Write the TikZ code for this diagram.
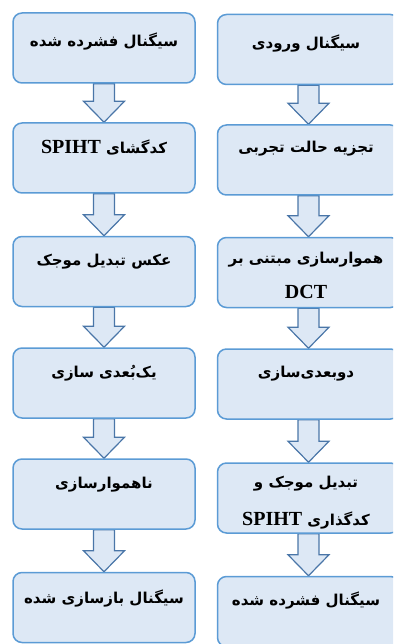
\documentclass[tikz,border=0pt]{standalone}
\usepackage{fontspec}
\usetikzlibrary{calc}
\TeXXeTstate=1
\newfontfamily\arabicfont[Script=Arabic]{DejaVu Sans}
\newfontfamily\latinfont{Liberation Serif}
\definecolor{boxfill}{HTML}{DDE8F5}
\definecolor{boxline}{HTML}{5B9BD5}
\definecolor{arrline}{HTML}{4A76A8}
\newcommand\fa[1]{\beginR #1\endR}
\newcommand\la[1]{{\latinfont\bfseries\fontsize{20}{24}\selectfont\beginL #1\endL}}
\pgfdeclarelayer{bg}
\pgfsetlayers{bg,main}
\tikzset{
  box/.style={draw=boxline, fill=boxfill, line width=1.5pt, rounded corners=9pt,
    minimum width=182pt, minimum height=70pt, inner sep=0pt},
  txt/.style={anchor=base, inner sep=0pt, font=\arabicfont\bfseries\fontsize{15}{18}\selectfont},
  blk/.style={draw=arrline, fill=boxfill, line width=1.2pt, line join=miter}
}
\newcommand\barrow[2]{%
  \begin{pgfonlayer}{bg}
  \draw[blk] let \p1=(#1.south), \p2=(#2.north) in
    (\x1-10.5pt,\y1) -- (\x1-10.5pt,\y2+21pt) -- (\x1-20.5pt,\y2+21pt) -- (\x1,\y2)
    -- (\x1+20.5pt,\y2+21pt) -- (\x1+10.5pt,\y2+21pt) -- (\x1+10.5pt,\y1) -- cycle;
  \end{pgfonlayer}}
\begin{document}
\begin{tikzpicture}[x=1pt,y=-1pt]
\useasboundingbox (0,0) rectangle (393,644);
\clip (0,0) rectangle (393,644);
% left column
\node[box] (L1) at (104,48) {};
\node[box] (L2) at (104,158) {};
\node[box] (L3) at (104,271.5) {};
\node[box] (L4) at (104,383) {};
\node[box] (L5) at (104,494) {};
\node[box] (L6) at (104,607.5) {};
% right column
\node[box] (R1) at (308.5,49.5) {};
\node[box] (R2) at (308.5,160) {};
\node[box] (R3) at (308.5,272.5) {};
\node[box] (R4) at (308.5,384) {};
\node[box] (R5) at (308.5,498) {};
\node[box] (R6) at (308.5,611.5) {};
% texts
\node[txt] (L1t) at (104,47) {\fa{سیگنال فشرده شده}};
\node[txt] (L2t) at (104,154) {\fa{کدگشای \la{SPIHT}}};
\node[txt] (L3t) at (104,265) {\fa{عکس تبدیل موجک}};
\node[txt] (L4t) at (104,377) {\fa{یک^^^^200cبُعدی سازی}};
\node[txt] (L5t) at (104,488) {\fa{ناهموارسازی}};
\node[txt] (L6t) at (104,603) {\fa{سیگنال بازسازی شده}};
\node[txt] (R1t) at (306,49) {\fa{سیگنال ورودی}};
\node[txt] (R2t) at (306,153) {\fa{تجزیه حالت تجربی}};
\node[txt] (R3t) at (306,263) {\fa{هموارسازی مبتنی بر}};
\node[txt] (R3u) at (306,298) {\la{DCT}};
\node[txt] (R4t) at (306,377) {\fa{دوبعدی^^^^200cسازی}};
\node[txt] (R5t) at (306,487) {\fa{تبدیل موجک و}};
\node[txt] (R5u) at (306,525) {\fa{کدگذاری \la{SPIHT}}};
\node[txt] (R6t) at (306,605) {\fa{سیگنال فشرده شده}};
% arrows
\barrow{L1}{L2}\barrow{L2}{L3}\barrow{L3}{L4}\barrow{L4}{L5}\barrow{L5}{L6}
\barrow{R1}{R2}\barrow{R2}{R3}\barrow{R3}{R4}\barrow{R4}{R5}\barrow{R5}{R6}
\end{tikzpicture}
\end{document}
